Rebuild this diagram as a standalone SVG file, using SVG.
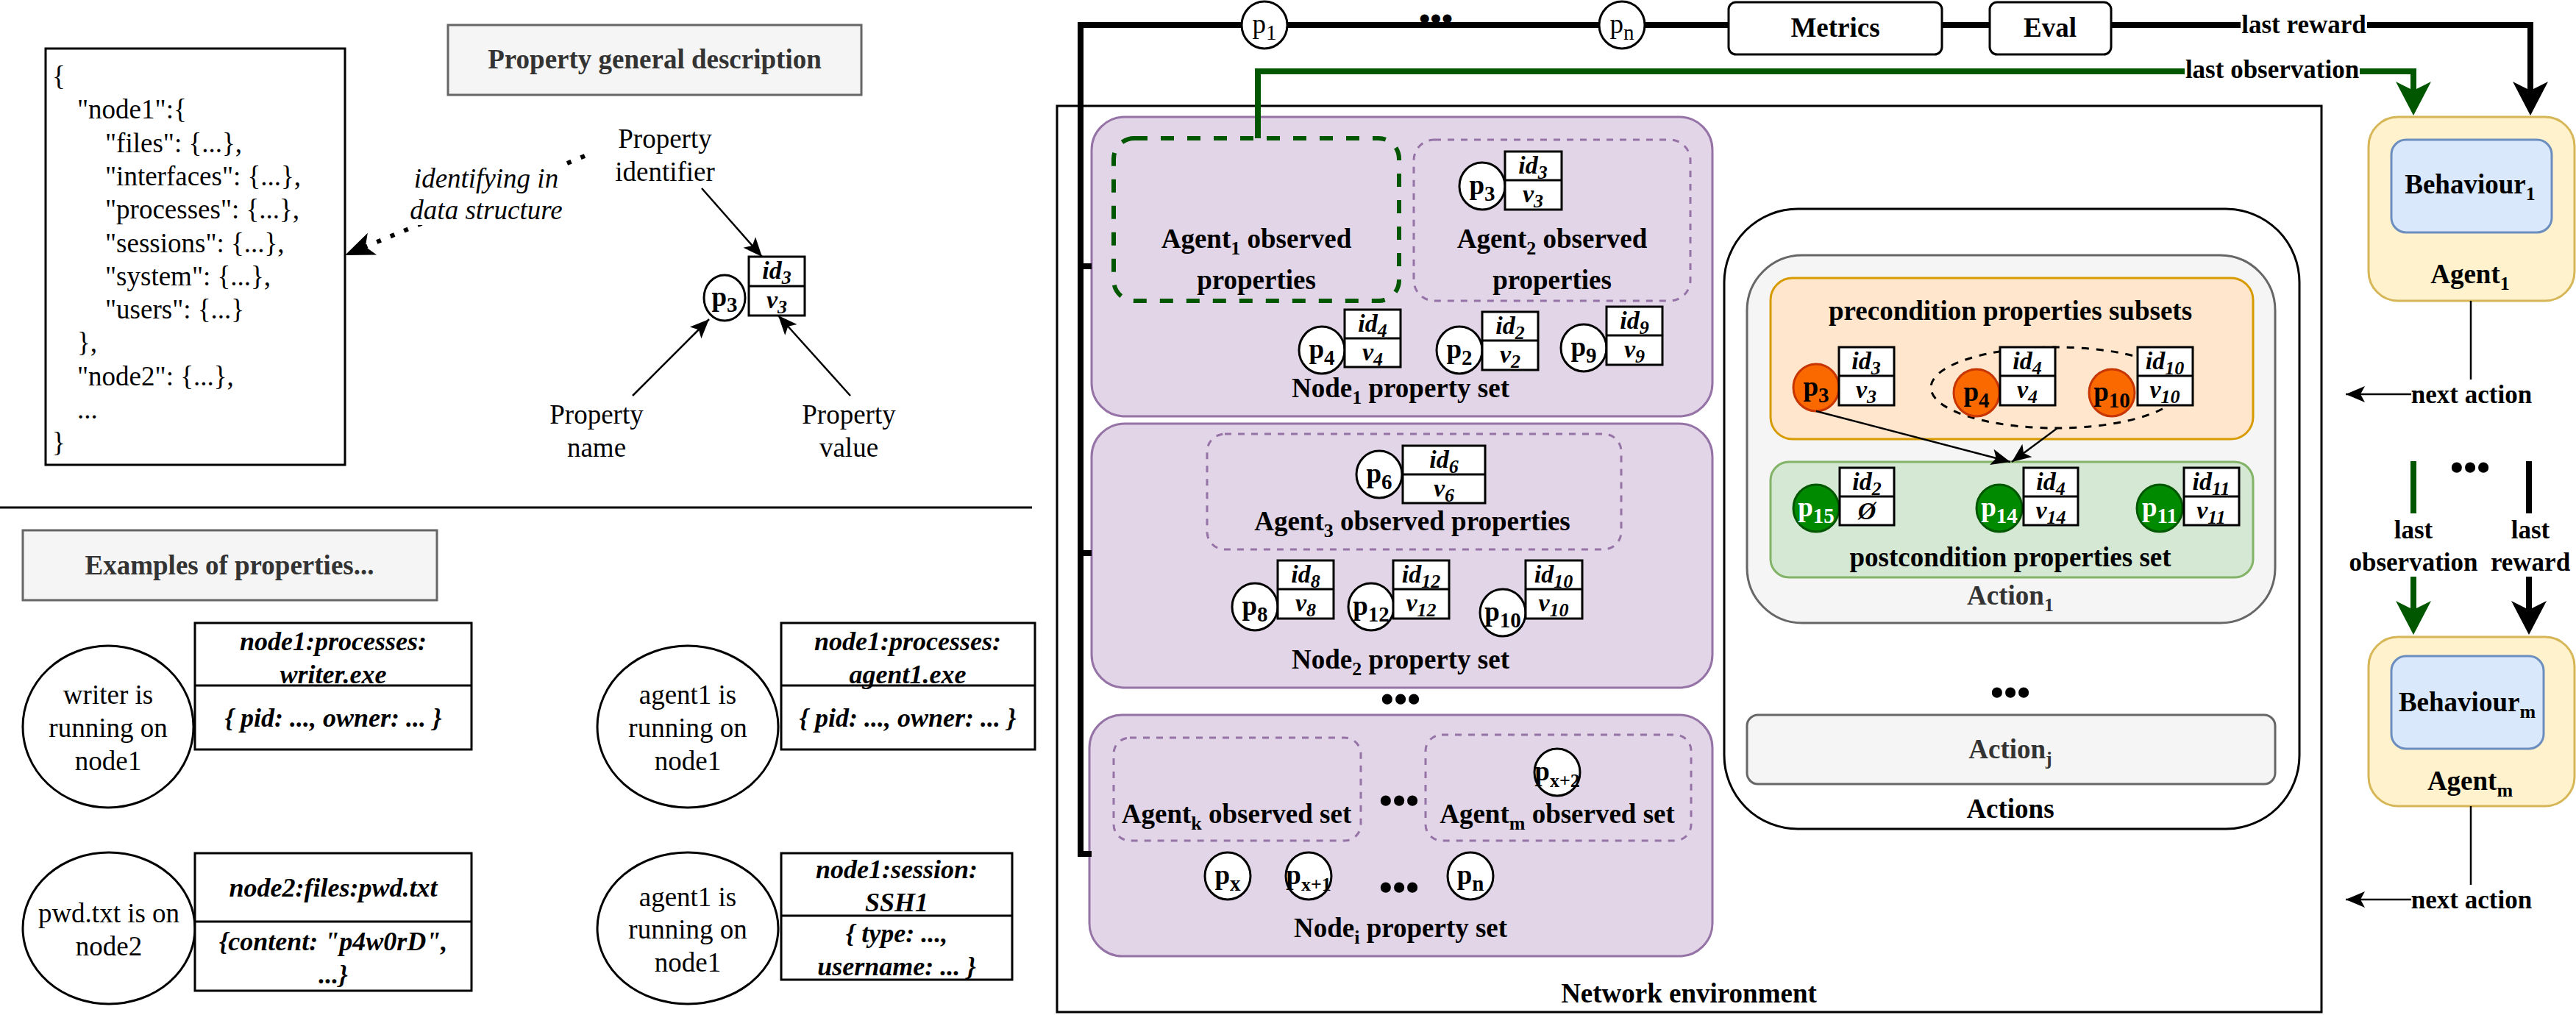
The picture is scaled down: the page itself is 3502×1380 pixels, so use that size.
<svg xmlns="http://www.w3.org/2000/svg" width="3502" height="1380" viewBox="0 0 3502 1380">
<defs>
<style>
.t{font-family:"Liberation Serif","Times New Roman",serif;font-size:37px;text-anchor:middle;fill:#000}
.b{font-weight:bold}
.i{font-style:italic}
.g{fill:#333}
.wt{fill:#fff}
.st{text-anchor:start}
.s{font-size:26px}
.ps{font-size:29px}
.c{font-size:34px;font-weight:bold;font-style:italic}
.ex{font-size:36px;font-weight:bold;font-style:italic}
.sm{font-size:35px;font-weight:bold}
.dots{font-size:52px;font-weight:bold}
.box{fill:#fff;stroke:#000;stroke-width:3}
.gray{fill:#f5f5f5;stroke:#666;stroke-width:3}
.node{fill:#e1d5e7;stroke:#9673a6;stroke-width:3}
.obs{fill:none;stroke:#9673a6;stroke-width:3;stroke-dasharray:9 9}
.pc{fill:#fff;stroke:#000;stroke-width:3}
.po{fill:#fa6800;stroke:#c73500;stroke-width:3}
.pg{fill:#008a00;stroke:#005700;stroke-width:3}
.thin{fill:none;stroke:#000;stroke-width:2.5}
.bus{fill:none;stroke:#000;stroke-width:8}
.gbus{fill:none;stroke:#005700;stroke-width:8}
.bg{fill:#fff}
</style>
<marker id="mBigK" markerUnits="userSpaceOnUse" viewBox="-50 -28 54 56" refX="-30" refY="0" markerWidth="54" markerHeight="56" orient="auto">
<path d="M0,0 L-46,-24 L-34,0 L-46,24 Z" fill="#000"/>
</marker>
<marker id="mBigG" markerUnits="userSpaceOnUse" viewBox="-50 -28 54 56" refX="-30" refY="0" markerWidth="54" markerHeight="56" orient="auto">
<path d="M0,0 L-46,-24 L-34,0 L-46,24 Z" fill="#005700"/>
</marker>
<marker id="mMed" markerUnits="userSpaceOnUse" viewBox="-44 -20 48 40" refX="-20" refY="0" markerWidth="48" markerHeight="40" orient="auto">
<path d="M0,0 L-40,-16 L-30,0 L-40,16 Z" fill="#000"/>
</marker>
<marker id="mSm" markerUnits="userSpaceOnUse" viewBox="-30 -14 32 28" refX="0" refY="0" markerWidth="32" markerHeight="28" orient="auto">
<path d="M0,0 L-26,-11 L-20,0 L-26,11 Z" fill="#000"/>
</marker>
</defs>

<rect x="0" y="0" width="3502" height="1380" fill="#fff"/>

<!-- ============ LEFT: general description ============ -->
<g id="json-box">
<rect class="box" x="62" y="66" width="407" height="566"/>
<text class="t st" x="71" y="116">{</text>
<text class="t st" x="105" y="161">"node1":{</text>
<text class="t st" x="143" y="207">"files": {...},</text>
<text class="t st" x="143" y="252">"interfaces": {...},</text>
<text class="t st" x="143" y="297">"processes": {...},</text>
<text class="t st" x="143" y="343">"sessions": {...},</text>
<text class="t st" x="143" y="388">"system": {...},</text>
<text class="t st" x="143" y="433">"users": {...}</text>
<text class="t st" x="105" y="478">},</text>
<text class="t st" x="105" y="524">"node2": {...},</text>
<text class="t st" x="105" y="569">...</text>
<text class="t st" x="71" y="614">}</text>
</g>

<g id="title-general">
<rect class="gray" x="609" y="34" width="562" height="95"/>
<text class="t b g" x="890" y="93">Property general description</text>
</g>

<g id="left-connectors">
<path d="M795,212 L487.5,339.3" fill="none" stroke="#000" stroke-width="6" stroke-dasharray="6 14" marker-end="url(#mMed)"/>
<path class="thin" d="M954,256 L1036,349" marker-end="url(#mSm)"/>
<path class="thin" d="M860,538 L964,434" marker-end="url(#mSm)"/>
<path class="thin" d="M1156,538 L1058,429" marker-end="url(#mSm)"/>
</g>

<g id="label-identifying">
<rect class="bg" x="562" y="222" width="198" height="84"/>
<text class="t i" x="661" y="255">identifying in</text>
<text class="t i" x="661" y="298">data structure</text>
</g>

<g id="label-prop-id">
<text class="t" x="904" y="201">Property</text>
<text class="t" x="904" y="246">identifier</text>
</g>
<g id="label-prop-name">
<text class="t" x="811" y="576">Property</text>
<text class="t" x="811" y="621">name</text>
</g>
<g id="label-prop-value">
<text class="t" x="1154" y="576">Property</text>
<text class="t" x="1154" y="621">value</text>
</g>

<g id="gen-p3">
<ellipse class="pc" cx="985" cy="405" rx="28" ry="31"/>
<text class="t b" x="985" y="416">p<tspan class="ps" dy="8">3</tspan></text>
<rect class="box" x="1018" y="349" width="76" height="80"/>
<line x1="1018" y1="389" x2="1094" y2="389" stroke="#000" stroke-width="3"/>
<text class="t c" x="1056" y="379">id<tspan class="s" dy="7">3</tspan></text>
<text class="t c" x="1056" y="419">v<tspan class="s" dy="7">3</tspan></text>
</g>

<line x1="0" y1="690" x2="1403" y2="690" stroke="#000" stroke-width="3"/>

<!-- ============ LEFT: examples ============ -->
<g id="title-examples">
<rect class="gray" x="31" y="721" width="563" height="95"/>
<text class="t b g" x="312" y="781">Examples of properties...</text>
</g>

<g id="ex1">
<ellipse class="pc" cx="147" cy="988" rx="116" ry="110"/>
<text class="t" x="147" y="957">writer is</text>
<text class="t" x="147" y="1002">running on</text>
<text class="t" x="147" y="1047">node1</text>
<rect class="box" x="265" y="847" width="376" height="172"/>
<line x1="265" y1="932" x2="641" y2="932" stroke="#000" stroke-width="3"/>
<text class="t ex" x="453" y="884">node1:processes:</text>
<text class="t ex" x="453" y="929">writer.exe</text>
<text class="t ex" x="453" y="988">{ pid: ..., owner: ... }</text>
</g>

<g id="ex2">
<ellipse class="pc" cx="935" cy="988" rx="123" ry="110"/>
<text class="t" x="935" y="957">agent1 is</text>
<text class="t" x="935" y="1002">running on</text>
<text class="t" x="935" y="1047">node1</text>
<rect class="box" x="1062" y="847" width="345" height="172"/>
<line x1="1062" y1="932" x2="1407" y2="932" stroke="#000" stroke-width="3"/>
<text class="t ex" x="1234" y="884">node1:processes:</text>
<text class="t ex" x="1234" y="929">agent1.exe</text>
<text class="t ex" x="1234" y="988">{ pid: ..., owner: ... }</text>
</g>

<g id="ex3">
<ellipse class="pc" cx="148" cy="1262" rx="117" ry="103"/>
<text class="t" x="148" y="1254">pwd.txt is on</text>
<text class="t" x="148" y="1299">node2</text>
<rect class="box" x="265" y="1160" width="376" height="187"/>
<line x1="265" y1="1253" x2="641" y2="1253" stroke="#000" stroke-width="3"/>
<text class="t ex" x="453" y="1219">node2:files:pwd.txt</text>
<text class="t ex" x="453" y="1292">{content: "p4w0rD",</text>
<text class="t ex" x="453" y="1337">...}</text>
</g>

<g id="ex4">
<ellipse class="pc" cx="935" cy="1262" rx="123" ry="103"/>
<text class="t" x="935" y="1232">agent1 is</text>
<text class="t" x="935" y="1276">running on</text>
<text class="t" x="935" y="1321">node1</text>
<rect class="box" x="1062" y="1160" width="314" height="172"/>
<line x1="1062" y1="1245" x2="1376" y2="1245" stroke="#000" stroke-width="3"/>
<text class="t ex" x="1219" y="1194">node1:session:</text>
<text class="t ex" x="1219" y="1239">SSH1</text>
<text class="t ex" x="1219" y="1281">{ type: ...,</text>
<text class="t ex" x="1219" y="1326">username: ... }</text>
</g>

<!-- ============ RIGHT ============ -->
<g id="network-env">
<rect x="1437" y="144" width="1719" height="1232" fill="none" stroke="#000" stroke-width="3"/>
<text class="t b" x="2296" y="1363">Network environment</text>
</g>

<g id="node1">
<rect class="node" x="1484" y="159" width="844" height="407" rx="45"/>
<text class="t b" x="1904" y="540">Node<tspan class="s" dy="9">1</tspan><tspan dy="-9"> property set</tspan></text>
</g>
<g id="agent1-observed">
<rect x="1514" y="188" width="388" height="221" rx="28" fill="none" stroke="#005700" stroke-width="6" stroke-dasharray="18 18"/>
<text class="t b" x="1708" y="337">Agent<tspan class="s" dy="9">1</tspan><tspan dy="-9"> observed</tspan></text>
<text class="t b" x="1708" y="393">properties</text>
</g>
<g id="agent2-observed">
<rect class="obs" x="1922" y="190" width="376" height="219" rx="28"/>
<text class="t b" x="2110" y="337">Agent<tspan class="s" dy="9">2</tspan><tspan dy="-9"> observed</tspan></text>
<text class="t b" x="2110" y="393">properties</text>
</g>

<g id="n1-p3">
<ellipse class="pc" cx="2015" cy="253" rx="31" ry="32"/>
<text class="t b" x="2015" y="264">p<tspan class="ps" dy="9">3</tspan></text>
<rect class="box" x="2046" y="206" width="77" height="79"/>
<line x1="2046" y1="245" x2="2123" y2="245" stroke="#000" stroke-width="3"/>
<text class="t c" x="2084" y="236">id<tspan class="s" dy="7">3</tspan></text>
<text class="t c" x="2084" y="275">v<tspan class="s" dy="7">3</tspan></text>
</g>
<g id="n1-p4">
<ellipse class="pc" cx="1797" cy="476" rx="31" ry="32"/>
<text class="t b" x="1797" y="487">p<tspan class="ps" dy="9">4</tspan></text>
<rect class="box" x="1828" y="421" width="76" height="78"/>
<line x1="1828" y1="460" x2="1904" y2="460" stroke="#000" stroke-width="3"/>
<text class="t c" x="1866" y="451">id<tspan class="s" dy="7">4</tspan></text>
<text class="t c" x="1866" y="490">v<tspan class="s" dy="7">4</tspan></text>
</g>
<g id="n1-p2">
<ellipse class="pc" cx="1984" cy="476" rx="31" ry="32"/>
<text class="t b" x="1984" y="487">p<tspan class="ps" dy="9">2</tspan></text>
<rect class="box" x="2015" y="424" width="76" height="79"/>
<line x1="2015" y1="463" x2="2091" y2="463" stroke="#000" stroke-width="3"/>
<text class="t c" x="2053" y="454">id<tspan class="s" dy="7">2</tspan></text>
<text class="t c" x="2053" y="493">v<tspan class="s" dy="7">2</tspan></text>
</g>
<g id="n1-p9">
<ellipse class="pc" cx="2153" cy="473" rx="31" ry="32"/>
<text class="t b" x="2153" y="484">p<tspan class="ps" dy="9">9</tspan></text>
<rect class="box" x="2184" y="417" width="76" height="79"/>
<line x1="2184" y1="456" x2="2260" y2="456" stroke="#000" stroke-width="3"/>
<text class="t c" x="2222" y="447">id<tspan class="s" dy="7">9</tspan></text>
<text class="t c" x="2222" y="486">v<tspan class="s" dy="7">9</tspan></text>
</g>

<g id="node2">
<rect class="node" x="1484" y="576" width="844" height="359" rx="45"/>
<text class="t b" x="1904" y="909">Node<tspan class="s" dy="9">2</tspan><tspan dy="-9"> property set</tspan></text>
</g>
<g id="agent3-observed">
<rect class="obs" x="1641" y="590" width="563" height="157" rx="24"/>
<text class="t b" x="1920" y="721">Agent<tspan class="s" dy="9">3</tspan><tspan dy="-9"> observed properties</tspan></text>
</g>
<g id="n2-p6">
<ellipse class="pc" cx="1875" cy="645" rx="31" ry="32"/>
<text class="t b" x="1875" y="656">p<tspan class="ps" dy="9">6</tspan></text>
<rect class="box" x="1907" y="606" width="112" height="78"/>
<line x1="1907" y1="645" x2="2019" y2="645" stroke="#000" stroke-width="3"/>
<text class="t c" x="1963" y="636">id<tspan class="s" dy="7">6</tspan></text>
<text class="t c" x="1963" y="675">v<tspan class="s" dy="7">6</tspan></text>
</g>
<g id="n2-p8">
<ellipse class="pc" cx="1706" cy="825" rx="31" ry="32"/>
<text class="t b" x="1706" y="836">p<tspan class="ps" dy="9">8</tspan></text>
<rect class="box" x="1737" y="762" width="76" height="79"/>
<line x1="1737" y1="801" x2="1813" y2="801" stroke="#000" stroke-width="3"/>
<text class="t c" x="1775" y="792">id<tspan class="s" dy="7">8</tspan></text>
<text class="t c" x="1775" y="831">v<tspan class="s" dy="7">8</tspan></text>
</g>
<g id="n2-p12">
<ellipse class="pc" cx="1864" cy="825" rx="31" ry="32"/>
<text class="t b" x="1864" y="836">p<tspan class="ps" dy="9">12</tspan></text>
<rect class="box" x="1894" y="762" width="76" height="79"/>
<line x1="1894" y1="801" x2="1970" y2="801" stroke="#000" stroke-width="3"/>
<text class="t c" x="1932" y="792">id<tspan class="s" dy="7">12</tspan></text>
<text class="t c" x="1932" y="831">v<tspan class="s" dy="7">12</tspan></text>
</g>
<g id="n2-p10">
<ellipse class="pc" cx="2043" cy="833" rx="31" ry="32"/>
<text class="t b" x="2043" y="844">p<tspan class="ps" dy="9">10</tspan></text>
<rect class="box" x="2074" y="762" width="77" height="79"/>
<line x1="2074" y1="801" x2="2151" y2="801" stroke="#000" stroke-width="3"/>
<text class="t c" x="2112" y="792">id<tspan class="s" dy="7">10</tspan></text>
<text class="t c" x="2112" y="831">v<tspan class="s" dy="7">10</tspan></text>
</g>

<text class="t dots" x="1904" y="968">•••</text>

<g id="node-i">
<rect class="node" x="1481" y="972" width="847" height="328" rx="45"/>
<text class="t b" x="1904" y="1274">Node<tspan class="s" dy="9">i</tspan><tspan dy="-9"> property set</tspan></text>
</g>
<g id="agentk-observed">
<rect class="obs" x="1514" y="1003" width="336" height="140" rx="22"/>
<text class="t b" x="1681" y="1119">Agent<tspan class="s" dy="9">k</tspan><tspan dy="-9"> observed set</tspan></text>
</g>
<text class="t dots" x="1902" y="1106">•••</text>
<g id="agentm-observed">
<rect class="obs" x="1938" y="999" width="361" height="144" rx="22"/>
<text class="t b" x="2117" y="1119">Agent<tspan class="s" dy="9">m</tspan><tspan dy="-9"> observed set</tspan></text>
</g>
<g id="ni-px2">
<ellipse class="pc" cx="2117" cy="1050" rx="31" ry="32"/>
<text class="t b" x="2117" y="1061">p<tspan class="s" dy="9">x+2</tspan></text>
</g>
<g id="ni-px">
<ellipse class="pc" cx="1669" cy="1191" rx="31" ry="32"/>
<text class="t b" x="1669" y="1202">p<tspan class="ps" dy="9">x</tspan></text>
</g>
<g id="ni-px1">
<ellipse class="pc" cx="1779" cy="1191" rx="31" ry="32"/>
<text class="t b" x="1779" y="1202">p<tspan class="s" dy="9">x+1</tspan></text>
</g>
<text class="t dots" x="1902" y="1224">•••</text>
<g id="ni-pn">
<ellipse class="pc" cx="1999" cy="1191" rx="31" ry="32"/>
<text class="t b" x="1999" y="1202">p<tspan class="ps" dy="9">n</tspan></text>
</g>

<!-- Actions -->
<g id="actions">
<rect x="2344" y="284" width="782" height="843" rx="100" fill="#fff" stroke="#000" stroke-width="3"/>
<text class="t b" x="2733" y="1112">Actions</text>
</g>
<g id="action1">
<rect class="gray" x="2375" y="347" width="718" height="500" rx="75"/>
<text class="t b g" x="2733" y="822">Action<tspan class="s" dy="9">1</tspan></text>
</g>
<g id="precondition">
<rect x="2407" y="378" width="656" height="219" rx="30" fill="#ffe6cc" stroke="#d79b00" stroke-width="3"/>
<text class="t b" x="2733" y="435">precondition properties subsets</text>
<ellipse cx="2795" cy="527" rx="170" ry="55" fill="none" stroke="#000" stroke-width="3" stroke-dasharray="10 10"/>
</g>
<g id="pre-p3">
<ellipse class="po" cx="2469" cy="527" rx="31" ry="32"/>
<text class="t b" x="2469" y="538">p<tspan class="ps" dy="9">3</tspan></text>
<rect class="box" x="2500" y="472" width="75" height="79"/>
<line x1="2500" y1="511" x2="2575" y2="511" stroke="#000" stroke-width="3"/>
<text class="t c" x="2537" y="502">id<tspan class="s" dy="7">3</tspan></text>
<text class="t c" x="2537" y="541">v<tspan class="s" dy="7">3</tspan></text>
</g>
<g id="pre-p4">
<ellipse class="po" cx="2687" cy="534" rx="31" ry="32"/>
<text class="t b" x="2687" y="545">p<tspan class="ps" dy="9">4</tspan></text>
<rect class="box" x="2719" y="472" width="75" height="79"/>
<line x1="2719" y1="511" x2="2794" y2="511" stroke="#000" stroke-width="3"/>
<text class="t c" x="2756" y="502">id<tspan class="s" dy="7">4</tspan></text>
<text class="t c" x="2756" y="541">v<tspan class="s" dy="7">4</tspan></text>
</g>
<g id="pre-p10">
<ellipse class="po" cx="2871" cy="534" rx="31" ry="32"/>
<text class="t b" x="2871" y="545">p<tspan class="ps" dy="9">10</tspan></text>
<rect class="box" x="2906" y="472" width="75" height="79"/>
<line x1="2906" y1="511" x2="2981" y2="511" stroke="#000" stroke-width="3"/>
<text class="t c" x="2943" y="502">id<tspan class="s" dy="7">10</tspan></text>
<text class="t c" x="2943" y="541">v<tspan class="s" dy="7">10</tspan></text>
</g>
<g id="postcondition">
<rect x="2407" y="628" width="656" height="157" rx="25" fill="#d5e8d4" stroke="#82b366" stroke-width="3"/>
<text class="t b" x="2733" y="770">postcondition properties set</text>
</g>
<g id="post-p15">
<ellipse class="pg" cx="2469" cy="691" rx="31" ry="32"/>
<text class="t b wt" x="2469" y="702">p<tspan class="ps" dy="9">15</tspan></text>
<rect class="box" x="2501" y="636" width="74" height="78"/>
<line x1="2501" y1="675" x2="2575" y2="675" stroke="#000" stroke-width="3"/>
<text class="t c" x="2538" y="666">id<tspan class="s" dy="7">2</tspan></text>
<text class="t c" x="2538" y="706">Ø</text>
</g>
<g id="post-p14">
<ellipse class="pg" cx="2718" cy="691" rx="31" ry="32"/>
<text class="t b wt" x="2718" y="702">p<tspan class="ps" dy="9">14</tspan></text>
<rect class="box" x="2751" y="636" width="74" height="78"/>
<line x1="2751" y1="675" x2="2825" y2="675" stroke="#000" stroke-width="3"/>
<text class="t c" x="2788" y="666">id<tspan class="s" dy="7">4</tspan></text>
<text class="t c" x="2788" y="705">v<tspan class="s" dy="7">14</tspan></text>
</g>
<g id="post-p11">
<ellipse class="pg" cx="2936" cy="691" rx="31" ry="32"/>
<text class="t b wt" x="2936" y="702">p<tspan class="ps" dy="9">11</tspan></text>
<rect class="box" x="2969" y="636" width="75" height="78"/>
<line x1="2969" y1="675" x2="3044" y2="675" stroke="#000" stroke-width="3"/>
<text class="t c" x="3006" y="666">id<tspan class="s" dy="7">11</tspan></text>
<text class="t c" x="3006" y="705">v<tspan class="s" dy="7">11</tspan></text>
</g>
<text class="t dots" x="2733" y="959">•••</text>
<g id="actionj">
<rect class="gray" x="2375" y="972" width="718" height="94" rx="15"/>
<text class="t b g" x="2733" y="1031">Action<tspan class="s" dy="9">j</tspan></text>
</g>

<!-- Agents -->
<g id="agent1">
<rect x="3220" y="159" width="280" height="250" rx="40" fill="#fff2cc" stroke="#d6b656" stroke-width="3"/>
<rect x="3251" y="190" width="218" height="126" rx="20" fill="#dae8fc" stroke="#6c8ebf" stroke-width="3"/>
<text class="t b" x="3358" y="263">Behaviour<tspan class="s" dy="9">1</tspan></text>
<text class="t b" x="3358" y="385">Agent<tspan class="s" dy="9">1</tspan></text>
</g>
<g id="agentm">
<rect x="3220" y="866" width="280" height="230" rx="40" fill="#fff2cc" stroke="#d6b656" stroke-width="3"/>
<rect x="3251" y="892" width="207" height="126" rx="20" fill="#dae8fc" stroke="#6c8ebf" stroke-width="3"/>
<text class="t b" x="3354" y="967">Behaviour<tspan class="s" dy="9">m</tspan></text>
<text class="t b" x="3358" y="1074">Agent<tspan class="s" dy="9">m</tspan></text>
</g>

<!-- Connectors -->
<g id="connectors">
<path class="bus" d="M1484,1161 H1469 V34 H2350"/>
<path class="bus" d="M1469,362 H1484"/>
<path class="bus" d="M1469,752 H1484"/>
<path class="bus" d="M2640,34 H2705"/>
<path class="bus" d="M2870,34 H3440 V127" marker-end="url(#mBigK)"/>
<path class="gbus" d="M1710,188 V97 H3281 V127" marker-end="url(#mBigG)"/>
<path class="thin" d="M2469,559 L2733,628" marker-end="url(#mSm)"/>
<path class="thin" d="M2797,582 L2735,628" marker-end="url(#mSm)"/>
<path class="thin" d="M3359,409 V536 H3189" marker-end="url(#mSm)"/>
<path class="thin" d="M3359,1096 V1223 H3189" marker-end="url(#mSm)"/>
<path class="gbus" d="M3281,627 V833" marker-end="url(#mBigG)"/>
<path class="bus" d="M3438,627 V833" marker-end="url(#mBigK)"/>
</g>

<g id="bus-props">
<ellipse class="pc" cx="1719" cy="34" rx="31" ry="32"/>
<text class="t" x="1719" y="45">p<tspan class="ps" dy="9">1</tspan></text>
<text class="t" x="1952" y="40" style="font-size:44px;font-weight:bold">•••</text>
<ellipse class="pc" cx="2205" cy="34" rx="31" ry="32"/>
<text class="t" x="2205" y="45">p<tspan class="ps" dy="9">n</tspan></text>
</g>
<g id="metrics">
<rect x="2350" y="3" width="290" height="71" rx="10" fill="#fff" stroke="#000" stroke-width="3"/>
<text class="t b" x="2495" y="50">Metrics</text>
</g>
<g id="eval">
<rect x="2705" y="3" width="165" height="71" rx="10" fill="#fff" stroke="#000" stroke-width="3"/>
<text class="t b" x="2787" y="50">Eval</text>
</g>

<g id="edge-labels">
<rect class="bg" x="3046" y="14" width="172" height="40"/>
<text class="t sm" x="3132" y="45">last reward</text>
<rect class="bg" x="2970" y="75" width="238" height="40"/>
<text class="t sm" x="3089" y="106">last observation</text>
<rect class="bg" x="3278" y="516" width="164" height="40"/>
<text class="t sm" x="3360" y="548">next action</text>
<rect class="bg" x="3278" y="1203" width="164" height="40"/>
<text class="t sm" x="3360" y="1235">next action</text>
<rect class="bg" x="3198" y="698" width="166" height="86"/>
<text class="t sm" x="3281" y="732">last</text>
<text class="t sm" x="3281" y="776">observation</text>
<rect class="bg" x="3384" y="698" width="114" height="86"/>
<text class="t sm" x="3440" y="732">last</text>
<text class="t sm" x="3440" y="776">reward</text>
<text class="t dots" x="3358" y="653">•••</text>
</g>
</svg>
